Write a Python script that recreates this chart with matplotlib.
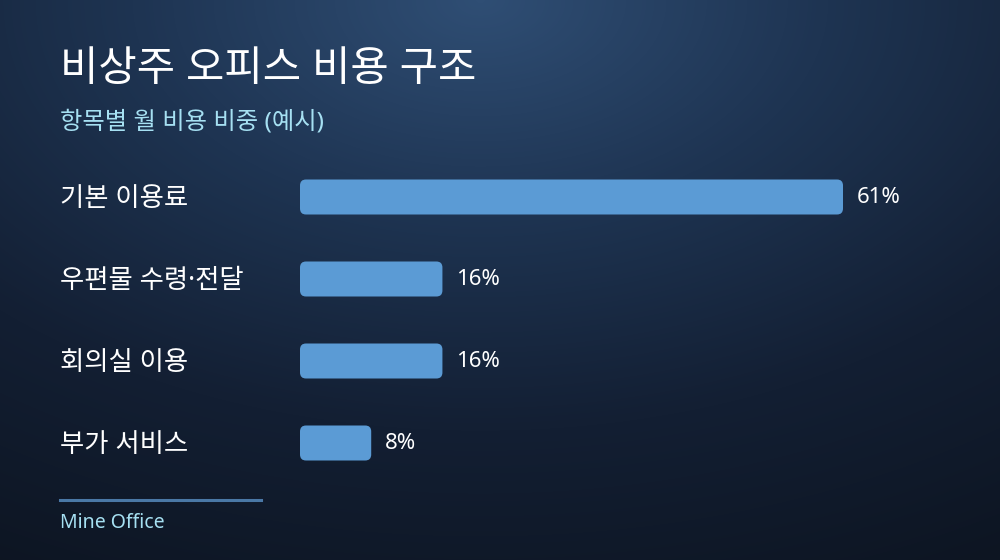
import numpy as np
import matplotlib
matplotlib.use("Agg")
import matplotlib.pyplot as plt
from matplotlib.patches import FancyBboxPatch
from matplotlib.transforms import blended_transform_factory
from matplotlib.colors import LinearSegmentedColormap

plt.rcParams['font.family'] = ['Noto Sans', 'Noto Sans CJK KR', 'DejaVu Sans']

title = "비상주 오피스 비용 구조"
subtitle = "항목별 월 비용 비중 (예시)"
categories = ["기본 이용료", "우편물 수령·전달", "회의실 이용", "부가 서비스"]
values = [61, 16, 16, 8]
value_labels = ["61%", "16%", "16%", "8%"]
footer = "Mine Office"

W, H = 1000, 560
fig = plt.figure(figsize=(W / 100, H / 100), dpi=100)

# background gradient
bg = fig.add_axes([0, 0, 1, 1], zorder=-10)
yy, xx = np.mgrid[0:H, 0:W]
d = np.sqrt(((xx - 480) / 900.0) ** 2 + ((yy - 0) / 560.0) ** 2)
d = np.clip(d / 1.15, 0, 1)
cmap = LinearSegmentedColormap.from_list("bg", ["#2f4e74", "#1e3452", "#131f33", "#0d1522"])
bg.imshow(d, cmap=cmap, aspect='auto', extent=[0, W, H, 0], interpolation='bilinear')
bg.set_xlim(0, W)
bg.set_ylim(H, 0)
bg.axis('off')

# bar axes
px_per_unit = 543 / 61.0
xmax = 70
ax_left = 300 / W
ax_w = xmax * px_per_unit / W
row_px = 82
top_px = 197 - row_px / 2
ax_h = 4 * row_px / H
ax_bottom = 1 - (top_px + 4 * row_px) / H
ax = fig.add_axes([ax_left, ax_bottom, ax_w, ax_h])
ax.set_xlim(0, xmax)
ax.set_ylim(len(categories) - 0.5, -0.5)
ax.axis('off')
ax.patch.set_alpha(0)

bar_h_px = 35
bh = bar_h_px / row_px
radius_px = 6
r_x = radius_px / px_per_unit
aspect = px_per_unit / row_px

trans_lab = blended_transform_factory(fig.transFigure, ax.transData)
for i, (c, v, lab) in enumerate(zip(categories, values, value_labels)):
    p = FancyBboxPatch((0, i - bh / 2), v, bh,
                       boxstyle=f"round,pad=0,rounding_size={r_x}",
                       mutation_aspect=aspect,
                       facecolor="#5b9bd5", edgecolor="none")
    ax.add_patch(p)
    ax.text(v + 14 / px_per_unit, i + 0.01, lab, color="white", fontsize=16,
            va='center', ha='left')
    ax.text(60 / W, i + 0.02, c, transform=trans_lab, color="white", fontsize=19,
            va='center', ha='left')

fig.text(60 / W, 1 - 70 / H, title, color="white", fontsize=30, va='center', ha='left')
fig.text(60 / W, 1 - 122 / H, subtitle, color="#a6e0f2", fontsize=17.5, va='center', ha='left')
fig.add_artist(plt.Line2D([60 / W, 261 / W], [1 - 500 / H, 1 - 500 / H],
                          color="#4a78a6", linewidth=2.2, transform=fig.transFigure))
fig.text(60 / W, 1 - 523 / H, footer, color="#a6e0f2", fontsize=14, va='center', ha='left')

fig.savefig("out.png", dpi=100)
